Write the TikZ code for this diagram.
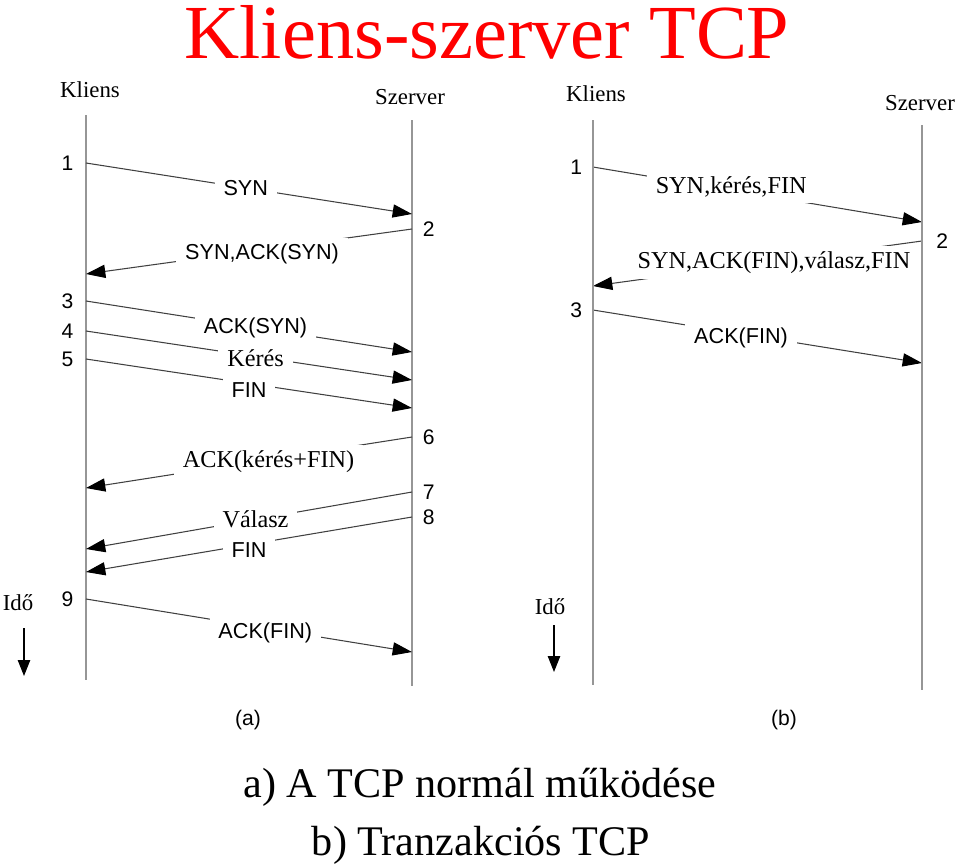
\documentclass[tikz,border=0pt]{standalone}
\usepackage{fontspec}
\setmainfont{Liberation Serif}
\setsansfont{Liberation Sans}
\usetikzlibrary{arrows.meta,positioning}

\definecolor{lifegray}{RGB}{150,150,150}
\definecolor{titlered}{RGB}{255,0,0}

\tikzset{
  lifeline/.style={draw=lifegray, line width=1.1pt},
  msg/.style={draw=black!75, line width=0.6pt, -{Triangle[length=11pt,width=7.5pt,color=black]}},
  lbl/.style={fill=white, inner xsep=5pt, inner ysep=3pt},
  sanslbl/.style={lbl, font=\sffamily\fontsize{12.3}{14}\selectfont},
  seriflbl/.style={lbl, font=\fontsize{13.8}{16}\selectfont},
  num/.style={inner sep=0pt, font=\sffamily\fontsize{12}{14}\selectfont},
  who/.style={font=\fontsize{13}{15}\selectfont},
  timearrow/.style={draw=black, line width=0.6pt, -{Triangle[length=9pt,width=7pt]}},
  capt/.style={anchor=base, font=\fontsize{24}{28}\selectfont}
}

\begin{document}
\begin{tikzpicture}[x=0.02cm, y=-0.02cm]
    \useasboundingbox (0,0) rectangle (960,866);

    % Title
    \node[font=\fontsize{43.5}{50}\selectfont, text=titlered] (title) at (487,32) {Kliens-szerver TCP};

    % Diagram (a): heads and lifelines
    \node[who] (akl) at (90,90) {Kliens};
    \node[who] (asz) at (410,97) {Szerver};
    \coordinate (aklt) at (86,115);
    \coordinate (aklb) at (86,680);
    \coordinate (aszt) at (412,120);
    \coordinate (aszb) at (412,686);
    \draw[lifeline] (aklt) -- (aklb);
    \draw[lifeline] (aszt) -- (aszb);

    % Kliens -> Szerver
    \foreach \name/\yc/\ys/\p/\dy/\st/\txt in {1/163/214/0.49/0/sanslbl/SYN,
        3/301/352/0.52/0/sanslbl/ACK(SYN), 4/331/380/0.52/2/seriflbl/Kérés,
        5/359/408/0.50/7/sanslbl/FIN, 9/599/652/0.55/5/sanslbl/ACK(FIN)} {
        \coordinate (a\name c) at (86,\yc);
        \coordinate (a\name s) at (412,\ys);
        \draw[msg] (a\name c) -- node[\st, pos=\p, yshift=-\dy*0.567pt] {\txt} (a\name s);
        \node[num, left=7pt of a\name c] (a\name n) {\name};
    }

    % Szerver -> Kliens
    \foreach \name/\ys/\yc/\p/\dy/\st/\txt in {2/229/274/0.46/4/sanslbl/{SYN,ACK(SYN)},
        6/437/488/0.44/2/seriflbl/ACK(kérés+FIN), 7/492/549/0.48/0/seriflbl/Válasz,
        8/517/572/0.50/6/sanslbl/FIN} {
        \coordinate (a\name s) at (412,\ys);
        \coordinate (a\name c) at (86,\yc);
        \draw[msg] (a\name s) -- node[\st, pos=\p, yshift=-\dy*0.567pt] {\txt} (a\name c);
        \node[num, right=6pt of a\name s] (a\name n) {\name};
    }

    % Time arrow and caption (a)
    \node[who] (aido) at (18,603) {Idő};
    \coordinate (aidos) at (24,628);
    \coordinate (aidoe) at (24,676);
    \draw[timearrow] (aidos) -- (aidoe);
    \node[font=\sffamily\fontsize{12}{14}\selectfont] (acap) at (248,720) {(a)};

    % Diagram (b): heads and lifelines
    \node[who] (bkl) at (596,94) {Kliens};
    \node[who] (bsz) at (920,103) {Szerver};
    \coordinate (bklt) at (593,120);
    \coordinate (bklb) at (593,685);
    \coordinate (bszt) at (922,125);
    \coordinate (bszb) at (922,690);

    % Kliens -> Szerver
    \foreach \name/\yc/\ys/\p/\dy/\st/\txt in {1/167/222/0.42/-3/seriflbl/{SYN,kérés,FIN},
        3/310/363/0.45/4/sanslbl/ACK(FIN)} {
        \coordinate (b\name c) at (593,\yc);
        \coordinate (b\name s) at (922,\ys);
        \draw[msg] (b\name c) -- node[\st, pos=\p, yshift=-\dy*0.567pt] {\txt} (b\name s);
        \node[num, left=6pt of b\name c] (b\name n) {\name};
    }

    % Szerver -> Kliens
    \coordinate (b2s) at (922,241);
    \coordinate (b2c) at (593,286);
    \draw[msg] (b2s) -- node[seriflbl, inner xsep=2pt, pos=0.45, yshift=-0.567pt] {SYN,ACK(FIN),válasz,FIN} (b2c);
    \node[num, right=8pt of b2s] (b2n) {2};

    % lifelines on top of the label boxes
    \draw[lifeline] (bklt) -- (bklb);
    \draw[lifeline] (bszt) -- (bszb);

    % Time arrow and caption (b)
    \node[who] (bido) at (550,607) {Idő};
    \coordinate (bidos) at (554,625);
    \coordinate (bidoe) at (554,672);
    \draw[timearrow] (bidos) -- (bidoe);
    \node[font=\sffamily\fontsize{12}{14}\selectfont] (bcap) at (784,720) {(b)};

    % Captions
    \node[capt] (capa) at (480,797) {a) A TCP normál működése};
    \node[capt] (capb) at (481,855) {b) Tranzakciós TCP};
\end{tikzpicture}
\end{document}
